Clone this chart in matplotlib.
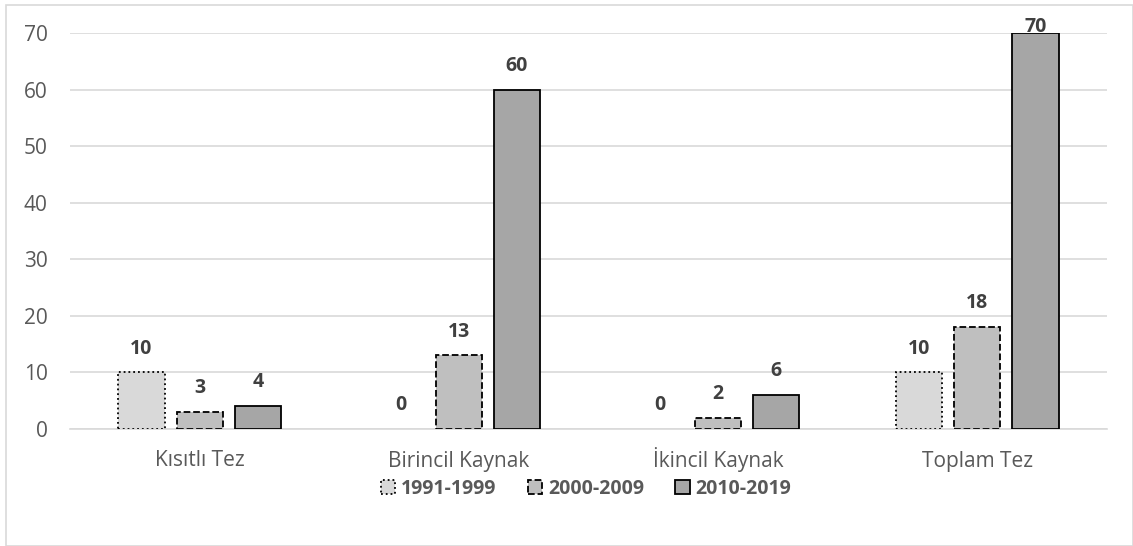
import matplotlib.pyplot as plt
import numpy as np
from matplotlib.patches import Rectangle

categories = ["Kısıtlı Tez", "Birincil Kaynak", "İkincil Kaynak", "Toplam Tez"]
series_names = ["1991-1999", "2000-2009", "2010-2019"]
values = [
    [10, 0, 0, 10],
    [3, 13, 2, 18],
    [4, 60, 6, 70],
]
yticks = [0, 10, 20, 30, 40, 50, 60, 70]

plt.rcParams['font.family'] = ['Open Sans', 'DejaVu Sans']

fig = plt.figure(figsize=(11.33, 5.46), dpi=100)
ax = fig.add_axes([70 / 1133, 1 - 429 / 546, 1037 / 1133, 396 / 546])

# outer chart border
fig.patches.append(Rectangle((6 / 1133, 0), 1 - 6 / 1133, 1 - 5 / 546, transform=fig.transFigure,
                             fill=False, edgecolor="#d9d9d9", linewidth=1.2))

colors = ["#d9d9d9", "#bfbfbf", "#a6a6a6"]
styles = [":", "--", "-"]
x = np.arange(len(categories))
width = 0.178
offsets = [-0.224, 0, 0.224]

for i, name in enumerate(series_names):
    bars = ax.bar(x + offsets[i], values[i], width, color=colors[i], edgecolor="black",
                  linestyle=styles[i], linewidth=1.3, label=name, zorder=3)
    for b, v in zip(bars, values[i]):
        if v == 0:
            b.set_edgecolor("none")
        # label sits just on top of the bar if it would leave the plot
        off = -3 if v >= 68 else 10
        ax.annotate(str(v), (b.get_x() + b.get_width() / 2, v), xytext=(0, off),
                    textcoords="offset points", ha="center", va="bottom", fontsize=14,
                    fontweight="bold", color="#404040", annotation_clip=False)

ax.set_xlim(-0.5, 3.5)
ax.set_ylim(0, 70)
ax.set_yticks(yticks)
ax.set_xticks(x)
ax.set_xticklabels(categories, va="baseline")
ax.tick_params(length=0, labelsize=15, colors="#595959")
ax.tick_params(axis="y", pad=16)
ax.tick_params(axis="x", pad=27)
ax.grid(axis="y", color="#d9d9d9", linewidth=1.2, zorder=0)
for s in ["top", "right", "left"]:
    ax.spines[s].set_visible(False)
ax.spines["bottom"].set_color("#d9d9d9")
ax.spines["bottom"].set_linewidth(1.2)

leg = fig.legend(loc="center", bbox_to_anchor=(586 / 1133, 1 - 489 / 546), ncol=3, frameon=False,
                 handlelength=0.75, handleheight=0.75, handletextpad=0.3, columnspacing=1.6,
                 prop={"size": 14, "weight": "bold"})
for t in leg.get_texts():
    t.set_color("#595959")

fig.savefig("out.png", dpi=100)
